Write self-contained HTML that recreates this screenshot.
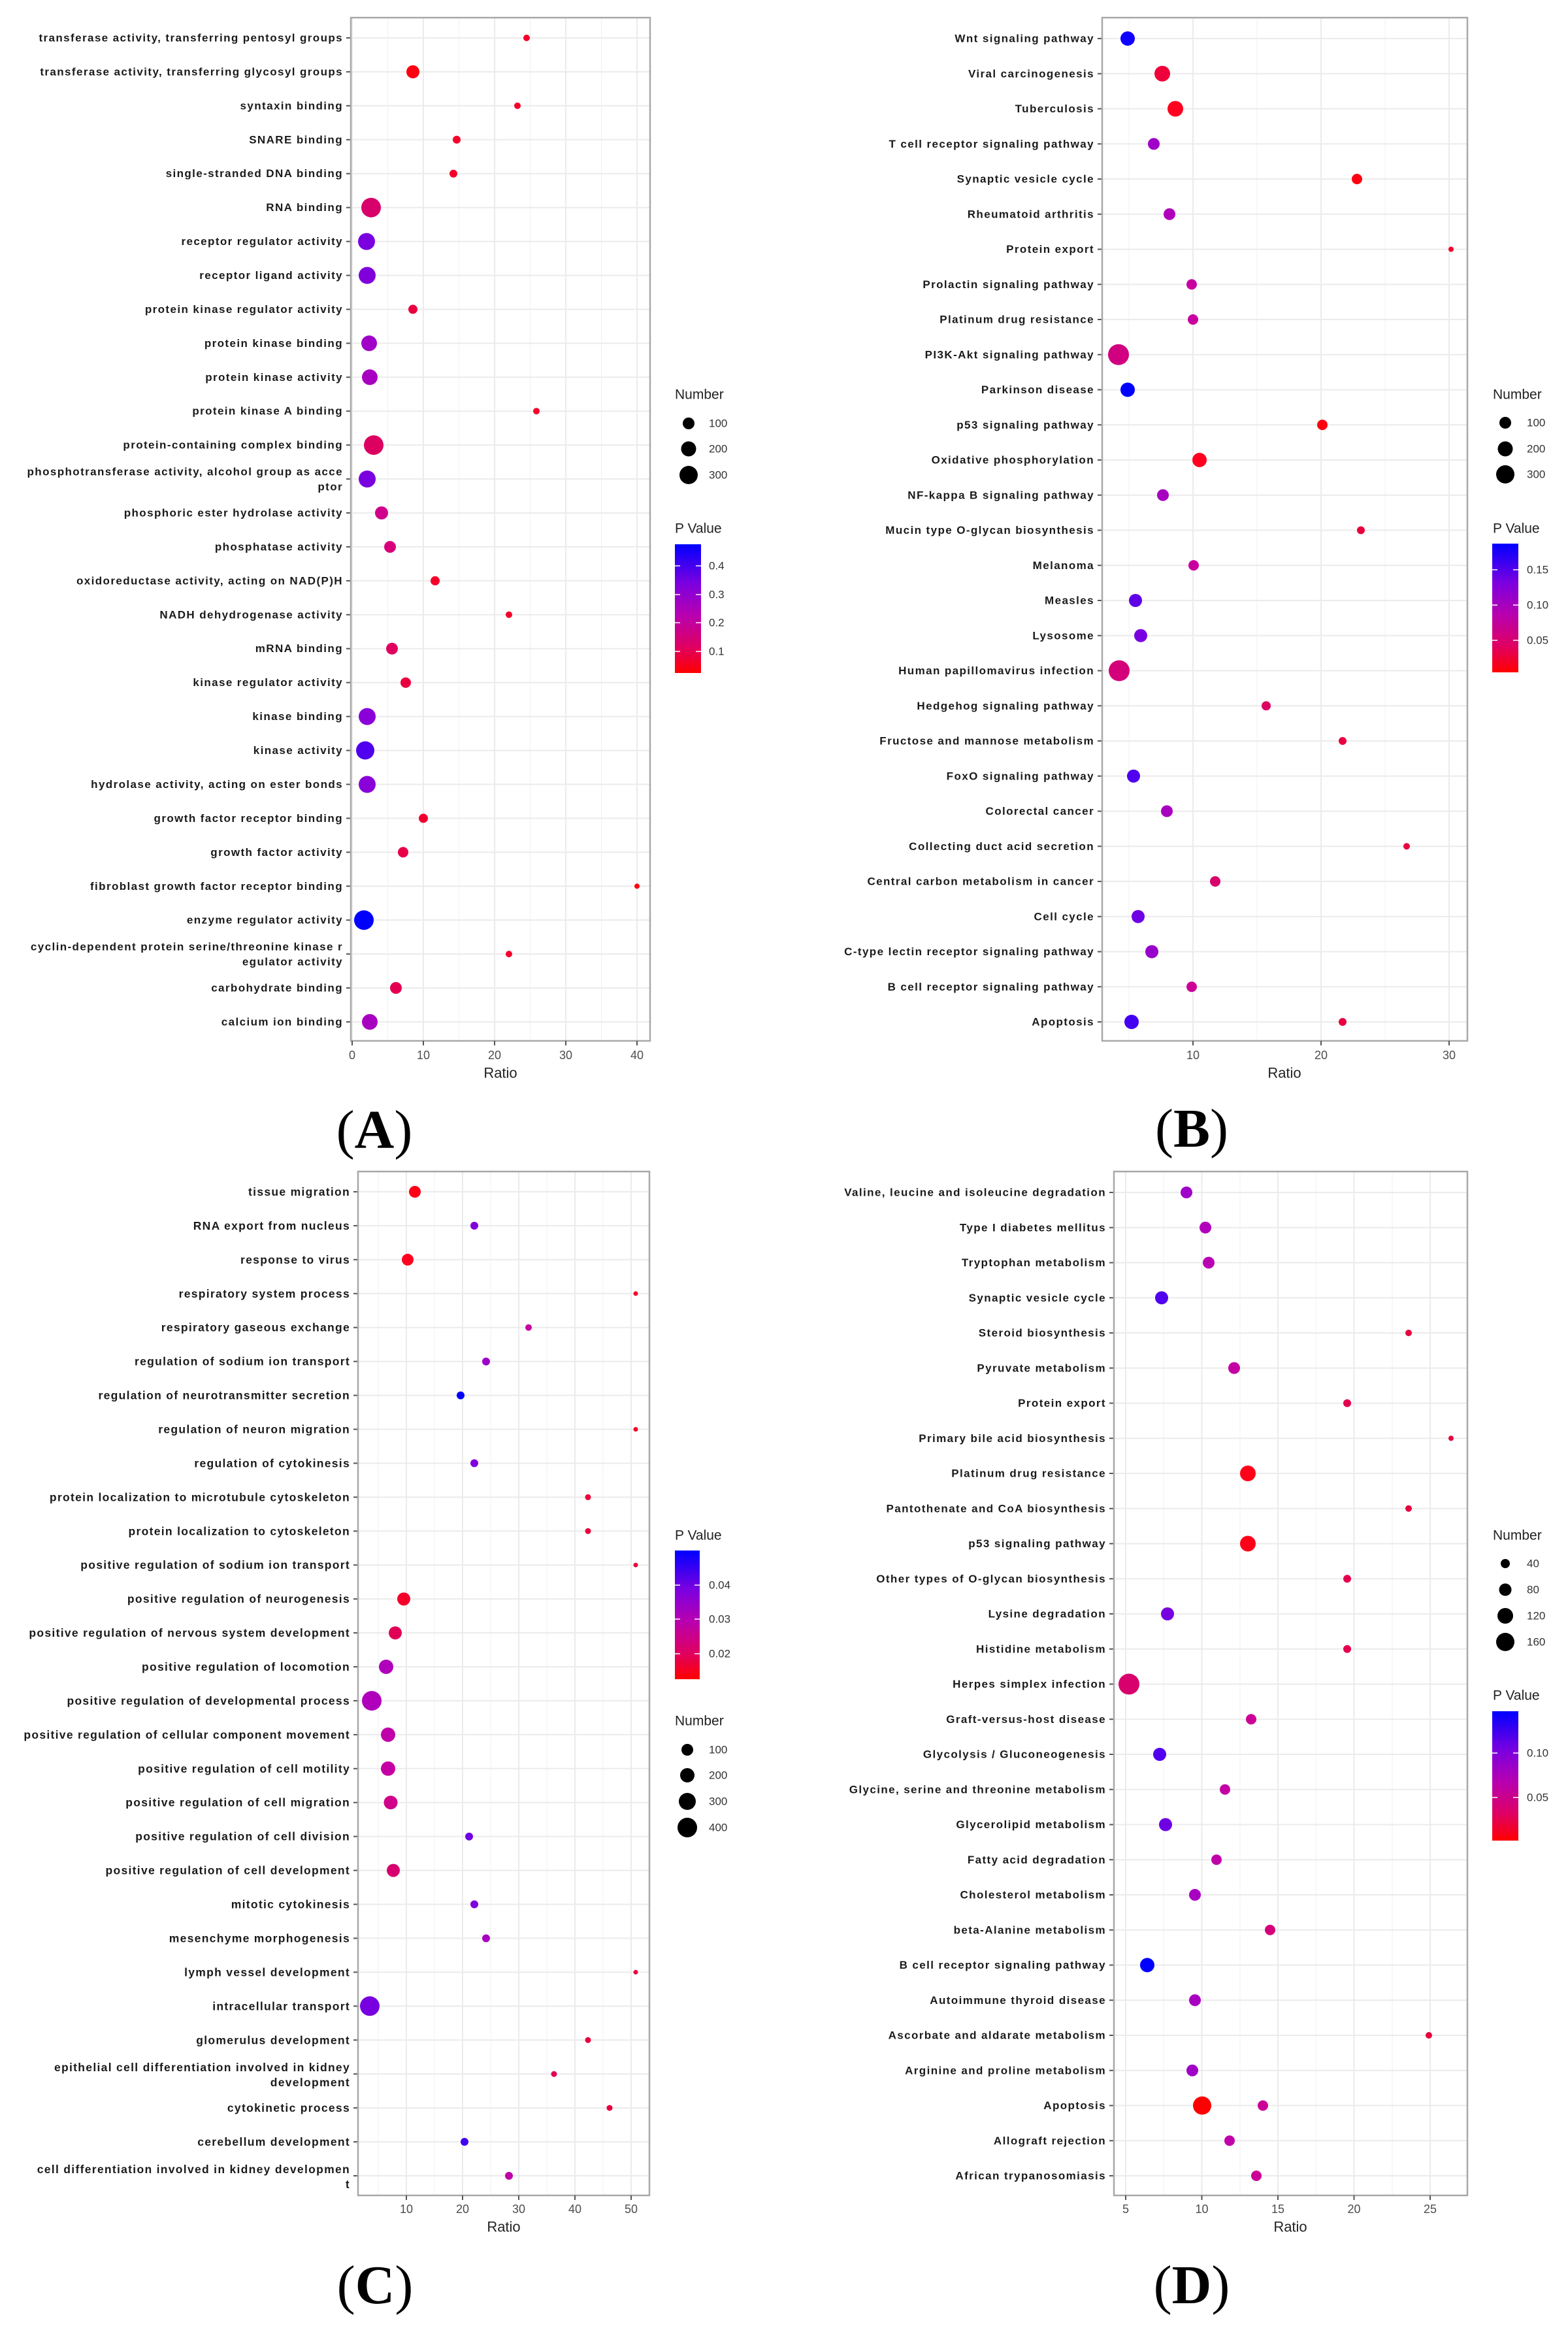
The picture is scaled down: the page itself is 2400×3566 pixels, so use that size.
<!DOCTYPE html>
<html><head><meta charset="utf-8"><style>
html,body{margin:0;padding:0;background:#fff}
svg{display:block}
text{font-family:"Liberation Sans",Arial,sans-serif}
.l{font-size:17px;font-weight:bold;fill:#1a1a1a;text-anchor:end;dominant-baseline:central;letter-spacing:1.4px}
.lc{font-size:17.5px;letter-spacing:1.3px}
.t{font-size:18px;fill:#4d4d4d;text-anchor:middle;dominant-baseline:central}
.ax{font-size:22px;fill:#222;text-anchor:middle;dominant-baseline:central}
.lt{font-size:21px;fill:#222;dominant-baseline:central}
.lv{font-size:17px;fill:#333;dominant-baseline:central}
.pl{font-family:"Liberation Serif",serif;font-size:84px;fill:#000;text-anchor:middle}
</style></head><body>
<svg width="2400" height="3566" viewBox="0 0 2400 3566" xmlns="http://www.w3.org/2000/svg">
<defs>
<linearGradient id="pv" x1="0" y1="0" x2="0" y2="1">
<stop offset="0" stop-color="#0000ff"/><stop offset="0.3" stop-color="#7a00e0"/><stop offset="0.55" stop-color="#b800b0"/><stop offset="0.8" stop-color="#e00060"/><stop offset="1" stop-color="#ff0000"/>
</linearGradient>
<pattern id="ha" x="0" y="57" width="10" height="51.93" patternUnits="userSpaceOnUse"><rect width="10" height="2" fill="#ebebeb"/></pattern>
<pattern id="ta" x="0" y="57" width="10" height="51.93" patternUnits="userSpaceOnUse"><rect width="10" height="2" fill="#555"/></pattern>
<pattern id="hb" x="0" y="58" width="10" height="53.75" patternUnits="userSpaceOnUse"><rect width="10" height="2" fill="#ebebeb"/></pattern>
<pattern id="tb" x="0" y="58" width="10" height="53.75" patternUnits="userSpaceOnUse"><rect width="10" height="2" fill="#555"/></pattern>
<pattern id="hc" x="0" y="1823" width="10" height="51.93" patternUnits="userSpaceOnUse"><rect width="10" height="2" fill="#ebebeb"/></pattern>
<pattern id="tc" x="0" y="1823" width="10" height="51.93" patternUnits="userSpaceOnUse"><rect width="10" height="2" fill="#555"/></pattern>
<pattern id="hd" x="0" y="1824" width="10" height="53.75" patternUnits="userSpaceOnUse"><rect width="10" height="2" fill="#ebebeb"/></pattern>
<pattern id="td" x="0" y="1824" width="10" height="53.75" patternUnits="userSpaceOnUse"><rect width="10" height="2" fill="#555"/></pattern>
</defs>

<!-- ================= PANEL A ================= -->
<g stroke="#f2f2f2" stroke-width="1.2">
<line x1="593.5" y1="27" x2="593.5" y2="1593"/><line x1="702.5" y1="27" x2="702.5" y2="1593"/><line x1="811.5" y1="27" x2="811.5" y2="1593"/><line x1="920.5" y1="27" x2="920.5" y2="1593"/>
</g>
<g stroke="#ebebeb" stroke-width="2">
<line x1="539" y1="27" x2="539" y2="1593"/><line x1="648" y1="27" x2="648" y2="1593"/><line x1="757" y1="27" x2="757" y2="1593"/><line x1="866" y1="27" x2="866" y2="1593"/><line x1="975" y1="27" x2="975" y2="1593"/>
</g>
<rect x="537" y="27" width="458" height="1566" fill="url(#ha)"/>
<rect x="530" y="27" width="7" height="1566" fill="url(#ta)"/>
<g>
<text class="l" x="525" y="58">transferase activity, transferring pentosyl groups</text>
<text class="l" x="525" y="109.9">transferase activity, transferring glycosyl groups</text>
<text class="l" x="525" y="161.9">syntaxin binding</text>
<text class="l" x="525" y="213.8">SNARE binding</text>
<text class="l" x="525" y="265.7">single-stranded DNA binding</text>
<text class="l" x="525" y="317.7">RNA binding</text>
<text class="l" x="525" y="369.6">receptor regulator activity</text>
<text class="l" x="525" y="421.5">receptor ligand activity</text>
<text class="l" x="525" y="473.4">protein kinase regulator activity</text>
<text class="l" x="525" y="525.4">protein kinase binding</text>
<text class="l" x="525" y="577.3">protein kinase activity</text>
<text class="l" x="525" y="629.2">protein kinase A binding</text>
<text class="l" x="525" y="681.2">protein-containing complex binding</text>
<text class="l" x="525" y="722">phosphotransferase activity, alcohol group as acce</text>
<text class="l" x="525" y="745">ptor</text>
<text class="l" x="525" y="785">phosphoric ester hydrolase activity</text>
<text class="l" x="525" y="837">phosphatase activity</text>
<text class="l" x="525" y="888.9">oxidoreductase activity, acting on NAD(P)H</text>
<text class="l" x="525" y="940.8">NADH dehydrogenase activity</text>
<text class="l" x="525" y="992.7">mRNA binding</text>
<text class="l" x="525" y="1044.7">kinase regulator activity</text>
<text class="l" x="525" y="1096.6">kinase binding</text>
<text class="l" x="525" y="1148.5">kinase activity</text>
<text class="l" x="525" y="1200.5">hydrolase activity, acting on ester bonds</text>
<text class="l" x="525" y="1252.4">growth factor receptor binding</text>
<text class="l" x="525" y="1304.3">growth factor activity</text>
<text class="l" x="525" y="1356.3">fibroblast growth factor receptor binding</text>
<text class="l" x="525" y="1408.2">enzyme regulator activity</text>
<text class="l" x="525" y="1449">cyclin-dependent protein serine/threonine kinase r</text>
<text class="l" x="525" y="1472">egulator activity</text>
<text class="l" x="525" y="1512">carbohydrate binding</text>
<text class="l" x="525" y="1564">calcium ion binding</text>
</g>
<g>
<circle cx="806" cy="58" r="5" fill="#f5002a"/>
<circle cx="632" cy="109.9" r="10" fill="#ff0010"/>
<circle cx="792" cy="161.9" r="5" fill="#f5002a"/>
<circle cx="699" cy="213.8" r="6" fill="#f5002a"/>
<circle cx="694" cy="265.7" r="6" fill="#f5002a"/>
<circle cx="568" cy="317.7" r="15" fill="#d8006a"/>
<circle cx="561" cy="369.6" r="13" fill="#7a00e0"/>
<circle cx="562" cy="421.5" r="13" fill="#8000dc"/>
<circle cx="632" cy="473.4" r="7" fill="#e8003e"/>
<circle cx="565" cy="525.4" r="12" fill="#a000c8"/>
<circle cx="566" cy="577.3" r="12" fill="#a800c0"/>
<circle cx="821" cy="629.2" r="5" fill="#f5002a"/>
<circle cx="572" cy="681.2" r="15" fill="#dc0060"/>
<circle cx="562" cy="733.1" r="13" fill="#7a00e0"/>
<circle cx="584" cy="785" r="10" fill="#d0008c"/>
<circle cx="597" cy="837" r="9" fill="#d8007a"/>
<circle cx="666" cy="888.9" r="7" fill="#f5002a"/>
<circle cx="779" cy="940.8" r="5" fill="#f5002a"/>
<circle cx="600" cy="992.7" r="9" fill="#e00060"/>
<circle cx="621" cy="1044.7" r="8" fill="#e80040"/>
<circle cx="562" cy="1096.6" r="13" fill="#8a00d8"/>
<circle cx="559" cy="1148.5" r="14" fill="#5000ee"/>
<circle cx="562" cy="1200.5" r="13" fill="#8a00d8"/>
<circle cx="648" cy="1252.4" r="7" fill="#f0002e"/>
<circle cx="617" cy="1304.3" r="8" fill="#e80048"/>
<circle cx="975" cy="1356.3" r="4" fill="#ff0010"/>
<circle cx="557" cy="1408.2" r="15" fill="#0000ff"/>
<circle cx="779" cy="1460.1" r="5" fill="#f5002a"/>
<circle cx="606" cy="1512" r="9" fill="#e40050"/>
<circle cx="566" cy="1564" r="12" fill="#a800c0"/>
</g>
<rect x="537" y="27" width="458" height="1566" fill="none" stroke="#a8a8a8" stroke-width="2.5"/>
<g stroke="#555" stroke-width="2"><line x1="539" y1="1593" x2="539" y2="1600"/><line x1="648" y1="1593" x2="648" y2="1600"/><line x1="757" y1="1593" x2="757" y2="1600"/><line x1="866" y1="1593" x2="866" y2="1600"/><line x1="975" y1="1593" x2="975" y2="1600"/></g>
<text class="t" x="539" y="1615">0</text><text class="t" x="648" y="1615">10</text><text class="t" x="757" y="1615">20</text><text class="t" x="866" y="1615">30</text><text class="t" x="975" y="1615">40</text>
<text class="ax" x="766" y="1642">Ratio</text>
<text class="lt" x="1033" y="604">Number</text>
<circle cx="1054" cy="648" r="9" fill="#000"/><circle cx="1054" cy="687" r="11.5" fill="#000"/><circle cx="1054" cy="727" r="14" fill="#000"/>
<text class="lv" x="1085" y="648">100</text><text class="lv" x="1085" y="687">200</text><text class="lv" x="1085" y="727">300</text>
<text class="lt" x="1033" y="809">P Value</text>
<rect x="1033" y="833" width="40" height="197" fill="url(#pv)"/>
<g stroke="#fff" stroke-width="1.5"><line x1="1033" y1="866" x2="1041" y2="866"/><line x1="1065" y1="866" x2="1073" y2="866"/><line x1="1033" y1="910" x2="1041" y2="910"/><line x1="1065" y1="910" x2="1073" y2="910"/><line x1="1033" y1="953" x2="1041" y2="953"/><line x1="1065" y1="953" x2="1073" y2="953"/><line x1="1033" y1="997" x2="1041" y2="997"/><line x1="1065" y1="997" x2="1073" y2="997"/></g>
<text class="lv" x="1085" y="866">0.4</text><text class="lv" x="1085" y="910">0.3</text><text class="lv" x="1085" y="953">0.2</text><text class="lv" x="1085" y="997">0.1</text>
<text class="pl" x="573" y="1757">(<tspan font-weight="bold">A</tspan>)</text>

<!-- ================= PANEL B ================= -->
<g stroke="#f2f2f2" stroke-width="1.2">
<line x1="1728" y1="27" x2="1728" y2="1593"/><line x1="1924" y1="27" x2="1924" y2="1593"/><line x1="2120" y1="27" x2="2120" y2="1593"/>
</g>
<g stroke="#ebebeb" stroke-width="2">
<line x1="1826" y1="27" x2="1826" y2="1593"/><line x1="2022" y1="27" x2="2022" y2="1593"/><line x1="2218" y1="27" x2="2218" y2="1593"/>
</g>
<rect x="1687" y="27" width="559" height="1566" fill="url(#hb)"/>
<rect x="1680" y="27" width="7" height="1566" fill="url(#tb)"/>
<g>
<text class="l" x="1675" y="59">Wnt signaling pathway</text>
<text class="l" x="1675" y="112.75">Viral carcinogenesis</text>
<text class="l" x="1675" y="166.5">Tuberculosis</text>
<text class="l" x="1675" y="220.25">T cell receptor signaling pathway</text>
<text class="l" x="1675" y="274">Synaptic vesicle cycle</text>
<text class="l" x="1675" y="327.75">Rheumatoid arthritis</text>
<text class="l" x="1675" y="381.5">Protein export</text>
<text class="l" x="1675" y="435.25">Prolactin signaling pathway</text>
<text class="l" x="1675" y="489">Platinum drug resistance</text>
<text class="l" x="1675" y="542.75">PI3K-Akt signaling pathway</text>
<text class="l" x="1675" y="596.5">Parkinson disease</text>
<text class="l" x="1675" y="650.25">p53 signaling pathway</text>
<text class="l" x="1675" y="704">Oxidative phosphorylation</text>
<text class="l" x="1675" y="757.75">NF-kappa B signaling pathway</text>
<text class="l" x="1675" y="811.5">Mucin type O-glycan biosynthesis</text>
<text class="l" x="1675" y="865.25">Melanoma</text>
<text class="l" x="1675" y="919">Measles</text>
<text class="l" x="1675" y="972.75">Lysosome</text>
<text class="l" x="1675" y="1026.5">Human papillomavirus infection</text>
<text class="l" x="1675" y="1080.25">Hedgehog signaling pathway</text>
<text class="l" x="1675" y="1134">Fructose and mannose metabolism</text>
<text class="l" x="1675" y="1187.75">FoxO signaling pathway</text>
<text class="l" x="1675" y="1241.5">Colorectal cancer</text>
<text class="l" x="1675" y="1295.25">Collecting duct acid secretion</text>
<text class="l" x="1675" y="1349">Central carbon metabolism in cancer</text>
<text class="l" x="1675" y="1402.75">Cell cycle</text>
<text class="l" x="1675" y="1456.5">C-type lectin receptor signaling pathway</text>
<text class="l" x="1675" y="1510.25">B cell receptor signaling pathway</text>
<text class="l" x="1675" y="1564">Apoptosis</text>
</g>
<g>
<circle cx="1726" cy="59" r="11" fill="#1000ff"/>
<circle cx="1779" cy="112.75" r="12" fill="#f0003a"/>
<circle cx="1799" cy="166.5" r="12" fill="#ff0020"/>
<circle cx="1766" cy="220.25" r="9" fill="#a000c8"/>
<circle cx="2077" cy="274" r="8" fill="#ff0010"/>
<circle cx="1790" cy="327.75" r="9" fill="#b000bc"/>
<circle cx="2221" cy="381.5" r="4" fill="#f5002a"/>
<circle cx="1824" cy="435.25" r="8" fill="#c800a0"/>
<circle cx="1826" cy="489" r="8" fill="#c800a0"/>
<circle cx="1712" cy="542.75" r="16" fill="#d00080"/>
<circle cx="1726" cy="596.5" r="11" fill="#0000ff"/>
<circle cx="2024" cy="650.25" r="8" fill="#ff0010"/>
<circle cx="1836" cy="704" r="11" fill="#ff0020"/>
<circle cx="1780" cy="757.75" r="9" fill="#a800c0"/>
<circle cx="2083" cy="811.5" r="6" fill="#e8003c"/>
<circle cx="1827" cy="865.25" r="8" fill="#c800a0"/>
<circle cx="1738" cy="919" r="10" fill="#6000e8"/>
<circle cx="1746" cy="972.75" r="10" fill="#7800e0"/>
<circle cx="1713" cy="1026.5" r="16" fill="#d4007a"/>
<circle cx="1938" cy="1080.25" r="7" fill="#dc0060"/>
<circle cx="2055" cy="1134" r="6" fill="#e80040"/>
<circle cx="1735" cy="1187.75" r="10" fill="#5000ee"/>
<circle cx="1786" cy="1241.5" r="9" fill="#a800c0"/>
<circle cx="2153" cy="1295.25" r="5" fill="#e80040"/>
<circle cx="1860" cy="1349" r="8" fill="#d8006a"/>
<circle cx="1742" cy="1402.75" r="10" fill="#7000e4"/>
<circle cx="1763" cy="1456.5" r="10" fill="#9800cc"/>
<circle cx="1824" cy="1510.25" r="8" fill="#cc0096"/>
<circle cx="1732" cy="1564" r="11" fill="#4400f0"/>
<circle cx="2055" cy="1564" r="6" fill="#e80040"/>
</g>
<rect x="1687" y="27" width="559" height="1566" fill="none" stroke="#a8a8a8" stroke-width="2.5"/>
<g stroke="#555" stroke-width="2"><line x1="1826" y1="1593" x2="1826" y2="1600"/><line x1="2022" y1="1593" x2="2022" y2="1600"/><line x1="2218" y1="1593" x2="2218" y2="1600"/></g>
<text class="t" x="1826" y="1615">10</text><text class="t" x="2022" y="1615">20</text><text class="t" x="2218" y="1615">30</text>
<text class="ax" x="1966" y="1642">Ratio</text>
<text class="lt" x="2285" y="604">Number</text>
<circle cx="2304" cy="647" r="9" fill="#000"/><circle cx="2304" cy="687" r="11.5" fill="#000"/><circle cx="2304" cy="726" r="14" fill="#000"/>
<text class="lv" x="2337" y="647">100</text><text class="lv" x="2337" y="687">200</text><text class="lv" x="2337" y="726">300</text>
<text class="lt" x="2285" y="809">P Value</text>
<rect x="2284" y="832" width="40" height="197" fill="url(#pv)"/>
<g stroke="#fff" stroke-width="1.5"><line x1="2284" y1="872" x2="2292" y2="872"/><line x1="2316" y1="872" x2="2324" y2="872"/><line x1="2284" y1="926" x2="2292" y2="926"/><line x1="2316" y1="926" x2="2324" y2="926"/><line x1="2284" y1="980" x2="2292" y2="980"/><line x1="2316" y1="980" x2="2324" y2="980"/></g>
<text class="lv" x="2337" y="872">0.15</text><text class="lv" x="2337" y="926">0.10</text><text class="lv" x="2337" y="980">0.05</text>
<text class="pl" x="1824" y="1755">(<tspan font-weight="bold">B</tspan>)</text>

<!-- ================= PANEL C ================= -->
<g stroke="#f2f2f2" stroke-width="1.2">
<line x1="579" y1="1793" x2="579" y2="3360"/><line x1="665" y1="1793" x2="665" y2="3360"/><line x1="751" y1="1793" x2="751" y2="3360"/><line x1="837" y1="1793" x2="837" y2="3360"/><line x1="923" y1="1793" x2="923" y2="3360"/>
</g>
<g stroke="#ebebeb" stroke-width="2">
<line x1="622" y1="1793" x2="622" y2="3360"/><line x1="708" y1="1793" x2="708" y2="3360"/><line x1="794" y1="1793" x2="794" y2="3360"/><line x1="880" y1="1793" x2="880" y2="3360"/><line x1="966" y1="1793" x2="966" y2="3360"/>
</g>
<rect x="548" y="1793" width="446" height="1567" fill="url(#hc)"/>
<rect x="541" y="1793" width="7" height="1567" fill="url(#tc)"/>
<g>
<text class="l lc" x="536" y="1824">tissue migration</text>
<text class="l lc" x="536" y="1875.9">RNA export from nucleus</text>
<text class="l lc" x="536" y="1927.9">response to virus</text>
<text class="l lc" x="536" y="1979.8">respiratory system process</text>
<text class="l lc" x="536" y="2031.7">respiratory gaseous exchange</text>
<text class="l lc" x="536" y="2083.7">regulation of sodium ion transport</text>
<text class="l lc" x="536" y="2135.6">regulation of neurotransmitter secretion</text>
<text class="l lc" x="536" y="2187.5">regulation of neuron migration</text>
<text class="l lc" x="536" y="2239.4">regulation of cytokinesis</text>
<text class="l lc" x="536" y="2291.4">protein localization to microtubule cytoskeleton</text>
<text class="l lc" x="536" y="2343.3">protein localization to cytoskeleton</text>
<text class="l lc" x="536" y="2395.2">positive regulation of sodium ion transport</text>
<text class="l lc" x="536" y="2447.2">positive regulation of neurogenesis</text>
<text class="l lc" x="536" y="2499.1">positive regulation of nervous system development</text>
<text class="l lc" x="536" y="2551">positive regulation of locomotion</text>
<text class="l lc" x="536" y="2603">positive regulation of developmental process</text>
<text class="l lc" x="536" y="2654.9">positive regulation of cellular component movement</text>
<text class="l lc" x="536" y="2706.8">positive regulation of cell motility</text>
<text class="l lc" x="536" y="2758.7">positive regulation of cell migration</text>
<text class="l lc" x="536" y="2810.7">positive regulation of cell division</text>
<text class="l lc" x="536" y="2862.6">positive regulation of cell development</text>
<text class="l lc" x="536" y="2914.5">mitotic cytokinesis</text>
<text class="l lc" x="536" y="2966.5">mesenchyme morphogenesis</text>
<text class="l lc" x="536" y="3018.4">lymph vessel development</text>
<text class="l lc" x="536" y="3070.3">intracellular transport</text>
<text class="l lc" x="536" y="3122.3">glomerulus development</text>
<text class="l lc" x="536" y="3164">epithelial cell differentiation involved in kidney</text>
<text class="l lc" x="536" y="3187">development</text>
<text class="l lc" x="536" y="3226.1">cytokinetic process</text>
<text class="l lc" x="536" y="3278">cerebellum development</text>
<text class="l lc" x="536" y="3320">cell differentiation involved in kidney developmen</text>
<text class="l lc" x="536" y="3343">t</text>
</g>
<g>
<circle cx="635" cy="1824" r="9" fill="#ff0018"/>
<circle cx="726" cy="1875.9" r="6" fill="#8000dc"/>
<circle cx="624" cy="1927.9" r="9" fill="#ff0020"/>
<circle cx="973" cy="1979.8" r="3.5" fill="#f5002a"/>
<circle cx="809" cy="2031.7" r="5" fill="#c800a0"/>
<circle cx="744" cy="2083.7" r="6" fill="#a000c8"/>
<circle cx="705" cy="2135.6" r="6" fill="#0000ff"/>
<circle cx="973" cy="2187.5" r="3.5" fill="#f5002a"/>
<circle cx="726" cy="2239.4" r="6" fill="#8000dc"/>
<circle cx="900" cy="2291.4" r="4.5" fill="#e8003c"/>
<circle cx="900" cy="2343.3" r="4.5" fill="#e8003c"/>
<circle cx="973" cy="2395.2" r="3.5" fill="#e8003c"/>
<circle cx="618" cy="2447.2" r="10" fill="#f5002a"/>
<circle cx="605" cy="2499.1" r="10" fill="#e00058"/>
<circle cx="591" cy="2551" r="11" fill="#b000bc"/>
<circle cx="569" cy="2603" r="15" fill="#b000bc"/>
<circle cx="594" cy="2654.9" r="11" fill="#c000a8"/>
<circle cx="594" cy="2706.8" r="11" fill="#c400a4"/>
<circle cx="598" cy="2758.7" r="10.5" fill="#d00088"/>
<circle cx="718" cy="2810.7" r="6" fill="#7000e4"/>
<circle cx="602" cy="2862.6" r="10" fill="#d8006e"/>
<circle cx="726" cy="2914.5" r="6" fill="#8000dc"/>
<circle cx="744" cy="2966.5" r="6" fill="#a800c0"/>
<circle cx="973" cy="3018.4" r="3.5" fill="#e8003c"/>
<circle cx="566" cy="3070.3" r="15" fill="#7800e0"/>
<circle cx="900" cy="3122.3" r="4.5" fill="#e8003c"/>
<circle cx="848" cy="3174.2" r="4.5" fill="#e00058"/>
<circle cx="933" cy="3226.1" r="4.5" fill="#e8003c"/>
<circle cx="711" cy="3278" r="6" fill="#4000f0"/>
<circle cx="779" cy="3330" r="6" fill="#c000a8"/>
</g>
<rect x="548" y="1793" width="446" height="1567" fill="none" stroke="#a8a8a8" stroke-width="2.5"/>
<g stroke="#555" stroke-width="2"><line x1="622" y1="3360" x2="622" y2="3367"/><line x1="708" y1="3360" x2="708" y2="3367"/><line x1="794" y1="3360" x2="794" y2="3367"/><line x1="880" y1="3360" x2="880" y2="3367"/><line x1="966" y1="3360" x2="966" y2="3367"/></g>
<text class="t" x="622" y="3381">10</text><text class="t" x="708" y="3381">20</text><text class="t" x="794" y="3381">30</text><text class="t" x="880" y="3381">40</text><text class="t" x="966" y="3381">50</text>
<text class="ax" x="771" y="3408">Ratio</text>
<text class="lt" x="1033" y="2350">P Value</text>
<rect x="1033" y="2373" width="38" height="197" fill="url(#pv)"/>
<g stroke="#fff" stroke-width="1.5"><line x1="1033" y1="2426" x2="1041" y2="2426"/><line x1="1063" y1="2426" x2="1071" y2="2426"/><line x1="1033" y1="2478" x2="1041" y2="2478"/><line x1="1063" y1="2478" x2="1071" y2="2478"/><line x1="1033" y1="2531" x2="1041" y2="2531"/><line x1="1063" y1="2531" x2="1071" y2="2531"/></g>
<text class="lv" x="1085" y="2426">0.04</text><text class="lv" x="1085" y="2478">0.03</text><text class="lv" x="1085" y="2531">0.02</text>
<text class="lt" x="1033" y="2634">Number</text>
<circle cx="1052" cy="2678" r="9" fill="#000"/><circle cx="1052" cy="2717" r="11" fill="#000"/><circle cx="1052" cy="2757" r="13" fill="#000"/><circle cx="1052" cy="2797" r="15" fill="#000"/>
<text class="lv" x="1085" y="2678">100</text><text class="lv" x="1085" y="2717">200</text><text class="lv" x="1085" y="2757">300</text><text class="lv" x="1085" y="2797">400</text>
<text class="pl" x="574" y="3525">(<tspan font-weight="bold">C</tspan>)</text>

<!-- ================= PANEL D ================= -->
<g stroke="#f2f2f2" stroke-width="1.2">
<line x1="1781" y1="1793" x2="1781" y2="3360"/><line x1="1898" y1="1793" x2="1898" y2="3360"/><line x1="2014" y1="1793" x2="2014" y2="3360"/><line x1="2131" y1="1793" x2="2131" y2="3360"/>
</g>
<g stroke="#ebebeb" stroke-width="2">
<line x1="1723" y1="1793" x2="1723" y2="3360"/><line x1="1839.5" y1="1793" x2="1839.5" y2="3360"/><line x1="1956" y1="1793" x2="1956" y2="3360"/><line x1="2072.5" y1="1793" x2="2072.5" y2="3360"/><line x1="2189" y1="1793" x2="2189" y2="3360"/>
</g>
<rect x="1705" y="1793" width="541" height="1567" fill="url(#hd)"/>
<rect x="1698" y="1793" width="7" height="1567" fill="url(#td)"/>
<g>
<text class="l" x="1693" y="1825">Valine, leucine and isoleucine degradation</text>
<text class="l" x="1693" y="1878.75">Type I diabetes mellitus</text>
<text class="l" x="1693" y="1932.5">Tryptophan metabolism</text>
<text class="l" x="1693" y="1986.25">Synaptic vesicle cycle</text>
<text class="l" x="1693" y="2040">Steroid biosynthesis</text>
<text class="l" x="1693" y="2093.75">Pyruvate metabolism</text>
<text class="l" x="1693" y="2147.5">Protein export</text>
<text class="l" x="1693" y="2201.25">Primary bile acid biosynthesis</text>
<text class="l" x="1693" y="2255">Platinum drug resistance</text>
<text class="l" x="1693" y="2308.75">Pantothenate and CoA biosynthesis</text>
<text class="l" x="1693" y="2362.5">p53 signaling pathway</text>
<text class="l" x="1693" y="2416.25">Other types of O-glycan biosynthesis</text>
<text class="l" x="1693" y="2470">Lysine degradation</text>
<text class="l" x="1693" y="2523.75">Histidine metabolism</text>
<text class="l" x="1693" y="2577.5">Herpes simplex infection</text>
<text class="l" x="1693" y="2631.25">Graft-versus-host disease</text>
<text class="l" x="1693" y="2685">Glycolysis / Gluconeogenesis</text>
<text class="l" x="1693" y="2738.75">Glycine, serine and threonine metabolism</text>
<text class="l" x="1693" y="2792.5">Glycerolipid metabolism</text>
<text class="l" x="1693" y="2846.25">Fatty acid degradation</text>
<text class="l" x="1693" y="2900">Cholesterol metabolism</text>
<text class="l" x="1693" y="2953.75">beta-Alanine metabolism</text>
<text class="l" x="1693" y="3007.5">B cell receptor signaling pathway</text>
<text class="l" x="1693" y="3061.25">Autoimmune thyroid disease</text>
<text class="l" x="1693" y="3115">Ascorbate and aldarate metabolism</text>
<text class="l" x="1693" y="3168.75">Arginine and proline metabolism</text>
<text class="l" x="1693" y="3222.5">Apoptosis</text>
<text class="l" x="1693" y="3276.25">Allograft rejection</text>
<text class="l" x="1693" y="3330">African trypanosomiasis</text>
</g>
<g>
<circle cx="1816" cy="1825" r="9" fill="#a000c8"/>
<circle cx="1845" cy="1878.75" r="9" fill="#b000bc"/>
<circle cx="1850" cy="1932.5" r="9" fill="#b800b4"/>
<circle cx="1778" cy="1986.25" r="10" fill="#5000ee"/>
<circle cx="2156" cy="2040" r="5" fill="#e8003c"/>
<circle cx="1889" cy="2093.75" r="9" fill="#c400a4"/>
<circle cx="2062" cy="2147.5" r="6" fill="#e40050"/>
<circle cx="2221" cy="2201.25" r="4" fill="#e8003c"/>
<circle cx="1910" cy="2255" r="12" fill="#ff0018"/>
<circle cx="2156" cy="2308.75" r="5" fill="#e8003c"/>
<circle cx="1910" cy="2362.5" r="12" fill="#ff0018"/>
<circle cx="2062" cy="2416.25" r="6" fill="#e40050"/>
<circle cx="1787" cy="2470" r="10" fill="#7800e0"/>
<circle cx="2062" cy="2523.75" r="6" fill="#e40050"/>
<circle cx="1728" cy="2577.5" r="16" fill="#d8006c"/>
<circle cx="1915" cy="2631.25" r="8" fill="#cc0096"/>
<circle cx="1775" cy="2685" r="10" fill="#5000ee"/>
<circle cx="1875" cy="2738.75" r="8" fill="#c400a4"/>
<circle cx="1784" cy="2792.5" r="10" fill="#7000e4"/>
<circle cx="1862" cy="2846.25" r="8" fill="#c000a8"/>
<circle cx="1829" cy="2900" r="9" fill="#a800c0"/>
<circle cx="1944" cy="2953.75" r="8" fill="#d4007a"/>
<circle cx="1756" cy="3007.5" r="11" fill="#0000ff"/>
<circle cx="1829" cy="3061.25" r="9" fill="#a800c0"/>
<circle cx="2187" cy="3115" r="5" fill="#e8003c"/>
<circle cx="1825" cy="3168.75" r="9" fill="#a000c8"/>
<circle cx="1840" cy="3222.5" r="14" fill="#ff0000"/>
<circle cx="1933" cy="3222.5" r="8" fill="#cc0096"/>
<circle cx="1882" cy="3276.25" r="8" fill="#c000a8"/>
<circle cx="1923" cy="3330" r="8" fill="#cc0096"/>
</g>
<rect x="1705" y="1793" width="541" height="1567" fill="none" stroke="#a8a8a8" stroke-width="2.5"/>
<g stroke="#555" stroke-width="2"><line x1="1723" y1="3360" x2="1723" y2="3367"/><line x1="1839.5" y1="3360" x2="1839.5" y2="3367"/><line x1="1956" y1="3360" x2="1956" y2="3367"/><line x1="2072.5" y1="3360" x2="2072.5" y2="3367"/><line x1="2189" y1="3360" x2="2189" y2="3367"/></g>
<text class="t" x="1723" y="3381">5</text><text class="t" x="1839.5" y="3381">10</text><text class="t" x="1956" y="3381">15</text><text class="t" x="2072.5" y="3381">20</text><text class="t" x="2189" y="3381">25</text>
<text class="ax" x="1975" y="3408">Ratio</text>
<text class="lt" x="2285" y="2350">Number</text>
<circle cx="2304" cy="2393" r="7" fill="#000"/><circle cx="2304" cy="2433" r="9.5" fill="#000"/><circle cx="2304" cy="2473" r="12" fill="#000"/><circle cx="2304" cy="2513" r="14" fill="#000"/>
<text class="lv" x="2337" y="2393">40</text><text class="lv" x="2337" y="2433">80</text><text class="lv" x="2337" y="2473">120</text><text class="lv" x="2337" y="2513">160</text>
<text class="lt" x="2285" y="2595">P Value</text>
<rect x="2284" y="2619" width="40" height="198" fill="url(#pv)"/>
<g stroke="#fff" stroke-width="1.5"><line x1="2284" y1="2683" x2="2292" y2="2683"/><line x1="2316" y1="2683" x2="2324" y2="2683"/><line x1="2284" y1="2751" x2="2292" y2="2751"/><line x1="2316" y1="2751" x2="2324" y2="2751"/></g>
<text class="lv" x="2337" y="2683">0.10</text><text class="lv" x="2337" y="2751">0.05</text>
<text class="pl" x="1824" y="3525">(<tspan font-weight="bold">D</tspan>)</text>
</svg>
</body></html>
